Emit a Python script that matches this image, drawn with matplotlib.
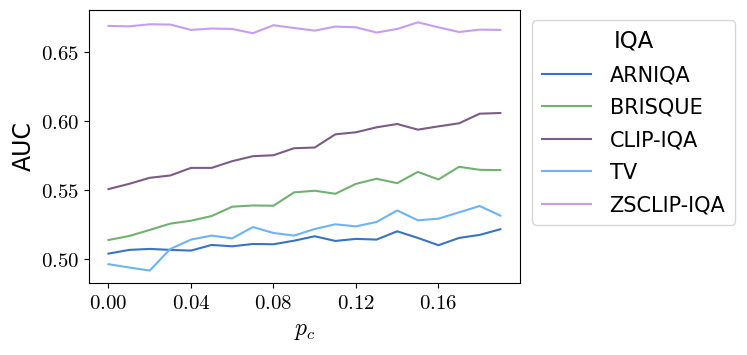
import matplotlib
matplotlib.use("Agg")
import matplotlib.pyplot as plt
from matplotlib.ticker import FuncFormatter, MultipleLocator
import numpy as np

plt.rcParams['mathtext.fontset'] = 'cm'

# p_c values
pc = np.arange(20) * 0.01

# AUC per IQA method
arniqa = [0.5036, 0.5063, 0.5070, 0.5063, 0.5058, 0.5099, 0.5089, 0.5106, 0.5104, 0.5130,
          0.5162, 0.5128, 0.5143, 0.5138, 0.5198, 0.5150, 0.5097, 0.5150, 0.5172, 0.5213]
brisque = [0.5135, 0.5164, 0.5208, 0.5254, 0.5275, 0.5309, 0.5377, 0.5386, 0.5384, 0.5481,
           0.5493, 0.5471, 0.5543, 0.5580, 0.5548, 0.5630, 0.5575, 0.5667, 0.5645, 0.5643]
clipiqa = [0.5505, 0.5543, 0.5587, 0.5604, 0.5659, 0.5659, 0.5708, 0.5744, 0.5751, 0.5802,
           0.5807, 0.5903, 0.5918, 0.5954, 0.5978, 0.5937, 0.5961, 0.5983, 0.6053, 0.6058]
tv = [0.4959, 0.4935, 0.4913, 0.5070, 0.5138, 0.5167, 0.5147, 0.5229, 0.5186, 0.5167,
      0.5215, 0.5249, 0.5234, 0.5266, 0.5350, 0.5278, 0.5290, 0.5336, 0.5382, 0.5312]
zsclip = [0.6691, 0.6688, 0.6703, 0.6701, 0.6662, 0.6672, 0.6669, 0.6638, 0.6696, 0.6676,
          0.6657, 0.6686, 0.6681, 0.6643, 0.6669, 0.6717, 0.6681, 0.6647, 0.6664, 0.6662]

names = ['ARNIQA', 'BRISQUE', 'CLIP-IQA', 'TV', 'ZSCLIP-IQA']
series = [arniqa, brisque, clipiqa, tv, zsclip]
colors = ['#3574c6', '#70b26e', '#7d5a88', '#6ab4f7', '#c79cf2']

fig = plt.figure(figsize=(7.47, 3.55), dpi=100)
ax = fig.add_axes([0.119, 0.203, 0.577, 0.769])

for name, vals, c in zip(names, series, colors):
    ax.plot(pc, vals, color=c, lw=1.5, label=name)

ax.xaxis.set_major_locator(MultipleLocator(0.04))
ax.yaxis.set_major_locator(MultipleLocator(0.05))
ax.xaxis.set_major_formatter(FuncFormatter(lambda v, p: r'$%.2f$' % v))
ax.yaxis.set_major_formatter(FuncFormatter(lambda v, p: r'$%.2f$' % v))
ax.tick_params(labelsize=15)
ax.set_xlabel(r'$p_c$', fontsize=17)
ax.set_ylabel('AUC', fontsize=17)

leg = ax.legend(title='IQA', loc='upper left', bbox_to_anchor=(1.005, 1.0),
                fontsize=15, title_fontsize=16.5, labelspacing=0.6,
                handlelength=2.35, handletextpad=0.9, borderpad=0.45)

fig.savefig('out.png')
